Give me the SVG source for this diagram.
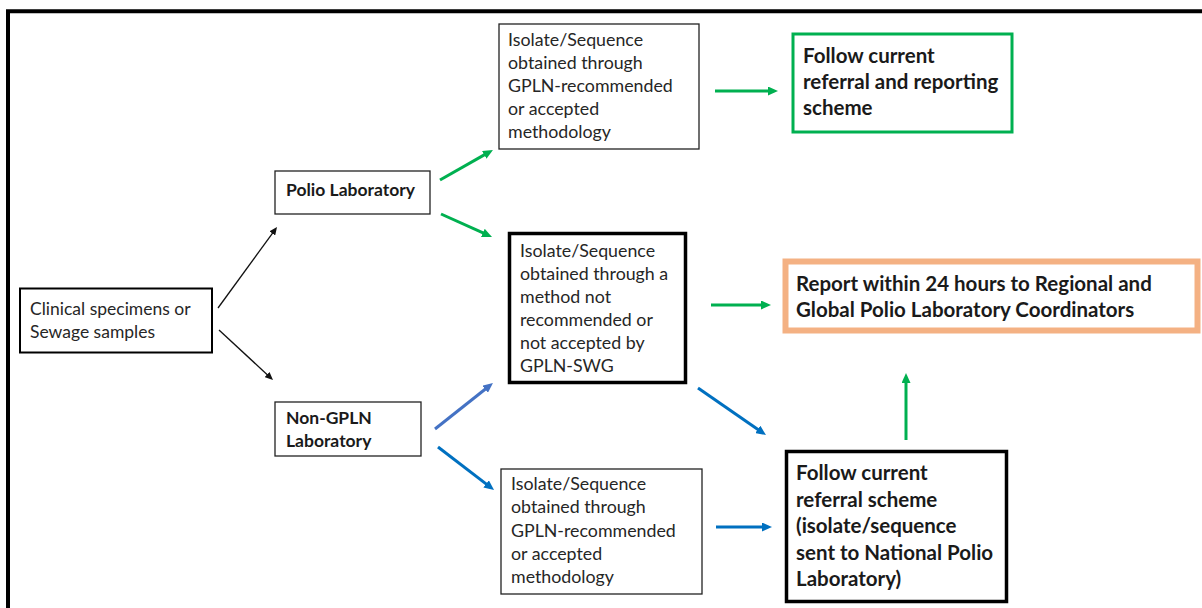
<svg xmlns="http://www.w3.org/2000/svg" width="1202" height="608" viewBox="0 0 1202 608">
<defs>
<style>
.t{font-family:Lato,"Liberation Sans",sans-serif;font-size:17.8px;fill:#262626}
.b{font-family:Lato,"Liberation Sans",sans-serif;font-size:20.5px;font-weight:bold;fill:#1a1a1a}
.bs{font-family:Lato,"Liberation Sans",sans-serif;font-size:17.5px;font-weight:bold;fill:#1a1a1a}
.thin{fill:#fff;stroke:#222;stroke-width:1.3}
.thick{fill:#fff;stroke:#000;stroke-width:3.5}
.g{stroke:#00B050;stroke-width:3;fill:none;marker-end:url(#ag)}
.bl{stroke:#0070C0;stroke-width:3;fill:none;marker-end:url(#ab)}
.bl2{stroke:#4472C4;stroke-width:3;fill:none;marker-end:url(#ab2)}
.k{stroke:#111;stroke-width:1.3;fill:none;marker-end:url(#ak)}
</style>
<marker id="ag" markerUnits="userSpaceOnUse" markerWidth="10" markerHeight="9" refX="2" refY="4.5" orient="auto"><path d="M0,0 L10,4.5 L0,9 z" fill="#00B050"/></marker>
<marker id="ab" markerUnits="userSpaceOnUse" markerWidth="10" markerHeight="9" refX="2" refY="4.5" orient="auto"><path d="M0,0 L10,4.5 L0,9 z" fill="#0070C0"/></marker>
<marker id="ab2" markerUnits="userSpaceOnUse" markerWidth="10" markerHeight="9" refX="2" refY="4.5" orient="auto"><path d="M0,0 L10,4.5 L0,9 z" fill="#4472C4"/></marker>
<marker id="ak" markerUnits="userSpaceOnUse" markerWidth="8" markerHeight="7" refX="2" refY="3.5" orient="auto"><path d="M0,0 L8,3.5 L0,7 z" fill="#111"/></marker>
</defs>
<rect width="1202" height="608" fill="#fff"/>
<path d="M8,608 V11.3 H1202" fill="none" stroke="#000" stroke-width="4"/>

<g id="connectors">
<line class="k" x1="218" y1="308" x2="273.5" y2="231.8"/>
<line class="k" x1="219" y1="330" x2="268.6" y2="375.9"/>
<line class="g" x1="440" y1="180" x2="486" y2="153.9"/>
<line class="g" x1="441" y1="214" x2="484.7" y2="233.7"/>
<line class="g" x1="715" y1="91" x2="770" y2="91"/>
<line class="g" x1="711" y1="305" x2="763" y2="305"/>
<line class="bl2" x1="435" y1="429" x2="486.7" y2="388"/>
<line class="bl" x1="438" y1="447" x2="487.7" y2="485.1"/>
<line class="bl" x1="698" y1="388" x2="759.4" y2="430.5"/>
<line class="bl" x1="716" y1="527" x2="764" y2="527"/>
<line class="g" x1="906" y1="440" x2="906" y2="381"/>
</g>

<g id="clinical">
<rect class="thin" x="20" y="288.5" width="192" height="64" style="stroke-width:2;stroke:#000"/>
<text class="t" x="30" y="315" style="font-size:17.5px">Clinical specimens or</text>
<text class="t" x="30" y="338" style="font-size:17.5px">Sewage samples</text>
</g>

<g id="polio-lab">
<rect class="thin" x="275" y="171" width="155" height="43"/>
<text class="bs" x="286" y="196">Polio Laboratory</text>
</g>

<g id="non-gpln-lab">
<rect class="thin" x="275" y="402" width="146" height="54"/>
<text class="bs" x="286" y="424">Non-GPLN</text>
<text class="bs" x="286" y="447">Laboratory</text>
</g>

<g id="isolate-top">
<rect class="thin" x="499" y="24" width="200" height="125"/>
<text class="t" x="508" y="46">Isolate/Sequence</text>
<text class="t" x="508" y="69">obtained through</text>
<text class="t" x="508" y="92">GPLN-recommended</text>
<text class="t" x="508" y="115">or accepted</text>
<text class="t" x="508" y="138">methodology</text>
</g>

<g id="isolate-mid">
<rect class="thick" x="509.5" y="233.5" width="176" height="149"/>
<text class="t" x="520" y="257">Isolate/Sequence</text>
<text class="t" x="520" y="280">obtained through a</text>
<text class="t" x="520" y="303">method not</text>
<text class="t" x="520" y="326">recommended or</text>
<text class="t" x="520" y="349">not accepted by</text>
<text class="t" x="520" y="372">GPLN-SWG</text>
</g>

<g id="isolate-bottom">
<rect class="thin" x="501" y="469" width="201" height="125"/>
<text class="t" x="511" y="490">Isolate/Sequence</text>
<text class="t" x="511" y="513">obtained through</text>
<text class="t" x="511" y="537">GPLN-recommended</text>
<text class="t" x="511" y="560">or accepted</text>
<text class="t" x="511" y="583">methodology</text>
</g>

<g id="follow-reporting">
<rect x="793" y="34" width="219" height="98" fill="#fff" stroke="#00B050" stroke-width="3"/>
<text class="b" x="803" y="63">Follow current</text>
<text class="b" x="803" y="89">referral and reporting</text>
<text class="b" x="803" y="115">scheme</text>
</g>

<g id="report-24h">
<rect x="785.5" y="261.5" width="412" height="69" fill="#fff" stroke="#F4B183" stroke-width="6"/>
<text class="b" x="796" y="291">Report within 24 hours to Regional and</text>
<text class="b" x="796" y="317">Global Polio Laboratory Coordinators</text>
</g>

<g id="follow-referral">
<rect class="thick" x="786.5" y="451.5" width="220" height="150"/>
<text class="b" x="796" y="480">Follow current</text>
<text class="b" x="796" y="507">referral scheme</text>
<text class="b" x="796" y="533">(isolate/sequence</text>
<text class="b" x="796" y="560">sent to National Polio</text>
<text class="b" x="796" y="586">Laboratory)</text>
</g>
</svg>
